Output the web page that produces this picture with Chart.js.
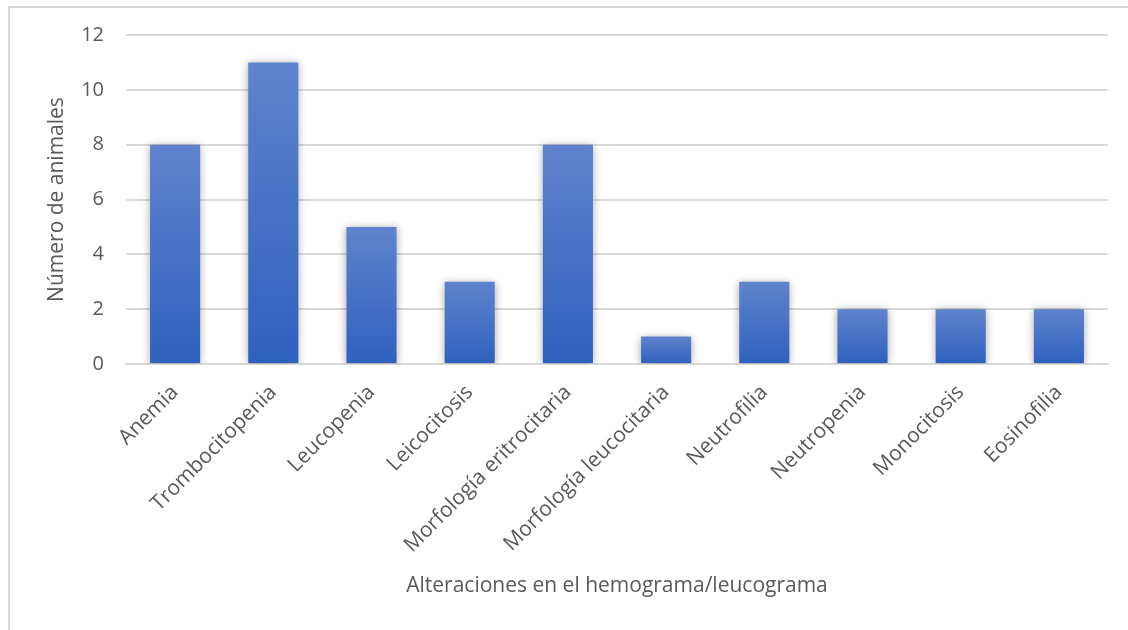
<!DOCTYPE html>
<html lang="es">
<head>
  <meta charset="UTF-8">
  <title>Alteraciones en el hemograma/leucograma</title>
  <script src="https://cdn.jsdelivr.net/npm/chart.js"></script>
  <style>
    html, body {
      margin: 0;
      padding: 0;
      background: #fff;
      overflow: hidden;
    }
    .frame {
      position: absolute;
      left: 8px;
      top: 6px;
      width: 1140px;
      height: 650px;
      border: 2px solid #d9d9d9;
      box-sizing: border-box;
    }
    .chart-box {
      position: absolute;
      left: 0;
      top: 0;
      width: 1128px;
      height: 630px;
    }
  </style>
</head>
<body>
  <div class="frame"></div>
  <div class="chart-box">
    <canvas id="barChart"></canvas>
  </div>

  <script>
    const categories = [
      'Anemia', 'Trombocitopenia', 'Leucopenia', 'Leicocitosis',
      'Morfología eritrocitaria', 'Morfología leucocitaria',
      'Neutrofilia', 'Neutropenia', 'Monocitosis', 'Eosinofilia'
    ];
    const animalCounts = [8, 11, 5, 3, 8, 1, 3, 2, 2, 2];
    const yTicks = [0, 2, 4, 6, 8, 10, 12];

    const fontFamily = '"Open Sans", "Noto Sans", sans-serif';
    const textColor = '#595959';

    // each bar gets its own vertical gradient, lighter at the top
    function barGradient(context) {
      const chart = context.chart;
      const yScale = chart.scales.y;
      if (!yScale || !context.parsed) return '#4472c4';
      const top = yScale.getPixelForValue(context.parsed.y);
      const base = yScale.getPixelForValue(0);
      if (!isFinite(top) || !isFinite(base) || top === base) return '#4472c4';
      const g = chart.ctx.createLinearGradient(0, top, 0, base);
      g.addColorStop(0, '#6083cc');
      g.addColorStop(1, '#2e61be');
      return g;
    }

    // soft shadow around the bars
    const barShadow = {
      id: 'barShadow',
      beforeDatasetsDraw(chart) {
        const ctx = chart.ctx;
        ctx.save();
        ctx.shadowColor = 'rgba(0, 0, 0, 0.35)';
        ctx.shadowBlur = 8;
        ctx.shadowOffsetX = 0;
        ctx.shadowOffsetY = 1;
      },
      afterDatasetsDraw(chart) {
        chart.ctx.restore();
      }
    };

    const ctx = document.getElementById('barChart').getContext('2d');
    new Chart(ctx, {
      type: 'bar',
      data: {
        labels: categories,
        datasets: [{
          label: 'Número de animales',
          data: animalCounts,
          backgroundColor: barGradient,
          borderWidth: 0,
          barPercentage: 0.51,
          categoryPercentage: 1
        }]
      },
      plugins: [barShadow],
      options: {
        responsive: true,
        maintainAspectRatio: false,
        animation: false,
        layout: {
          padding: { top: 35, right: 20, left: 0, bottom: 0 }
        },
        plugins: {
          legend: { display: false },
          tooltip: { enabled: false }
        },
        scales: {
          x: {
            grid: { display: false },
            border: { display: true, color: '#d9d9d9', width: 2 },
            ticks: {
              color: textColor,
              font: { family: fontFamily, size: 21 },
              minRotation: 45,
              maxRotation: 45,
              padding: 8,
              autoSkip: false
            },
            title: {
              display: true,
              text: 'Alteraciones en el hemograma/leucograma',
              color: textColor,
              font: { family: fontFamily, size: 21 },
              padding: { top: 0, bottom: 31 }
            },
            afterFit(scale) { scale.height = 266; }
          },
          y: {
            min: 0,
            max: 12,
            afterBuildTicks(scale) {
              scale.ticks = yTicks.map(v => ({ value: v }));
            },
            grid: { color: '#d9d9d9', lineWidth: 2, drawTicks: false },
            border: { display: false },
            ticks: {
              color: textColor,
              font: { family: fontFamily, size: 20 },
              padding: 22
            },
            title: {
              display: true,
              text: 'Número de animales',
              color: textColor,
              font: { family: fontFamily, size: 21 },
              padding: { top: 44, bottom: 0 }
            },
            afterFit(scale) { scale.width = 126; }
          }
        }
      }
    });
  </script>
</body>
</html>
